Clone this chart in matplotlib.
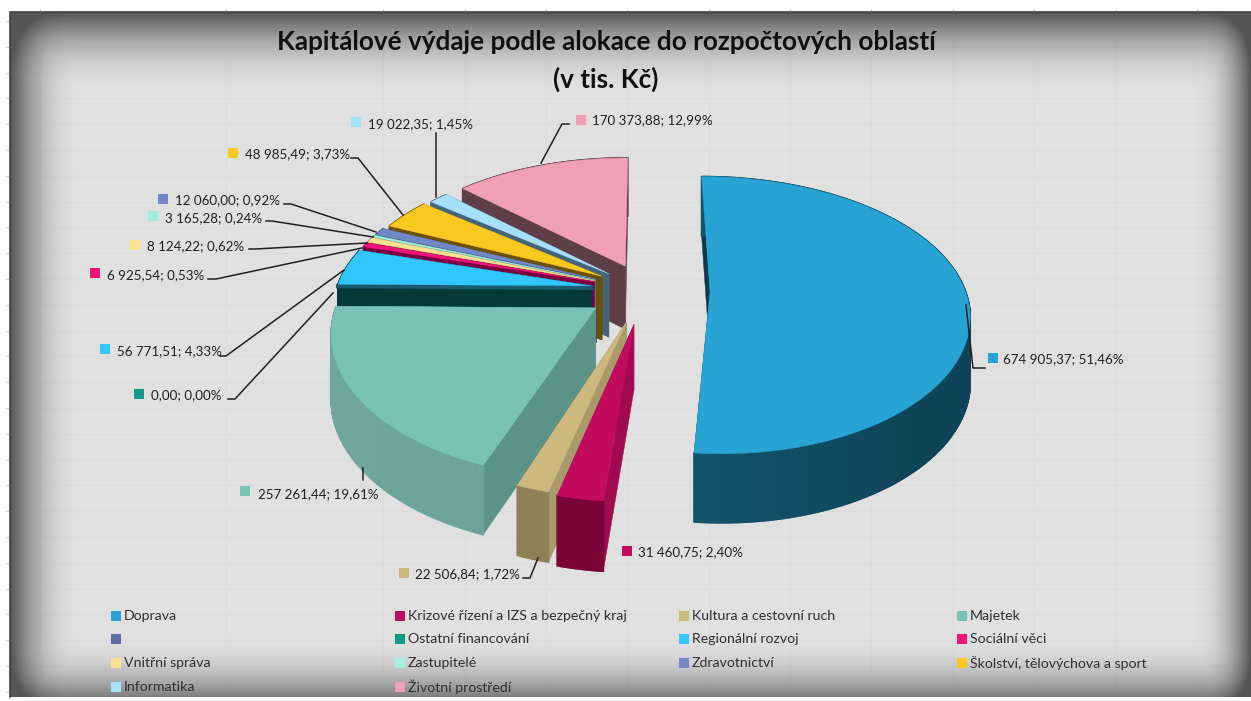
import numpy as np
import matplotlib
matplotlib.use("Agg")
import matplotlib.pyplot as plt

plt.rcParams['font.family'] = ['Lato', 'DejaVu Sans']

# data
categories = ['Doprava', 'Krizové řízení a IZS a bezpečný kraj', 'Kultura a cestovní ruch', 'Majetek',
              '', 'Ostatní financování', 'Regionální rozvoj', 'Sociální věci',
              'Vnitřní správa', 'Zastupitelé', 'Zdravotnictví', 'Školství, tělovýchova a sport',
              'Informatika', 'Životní prostředí']
values = [674905.37, 31460.75, 22506.84, 257261.44,
          0.0, 0.0, 56771.51, 6925.54,
          8124.22, 3165.28, 12060.00, 48985.49,
          19022.35, 170373.88]
top_colors = ['#27A4D3', '#C20A5F', '#CDB97D', '#78C2B6',
              '#5A6EAA', '#109888', '#31C6FF', '#EE1478',
              '#FFDF90', '#A0F0E0', '#7088C8', '#FBC820',
              '#A5E0FF', '#F09FB5']
cut_colors = ['#0B3A4C', '#A00A50', '#A99A6B', '#5C9389',
              '#333333', '#333333', '#053A36', '#7A0040',
              '#8A7A50', '#4A8A7A', '#3A4A70', '#6B5000',
              '#45667A', '#5E3F48']
rim_start = ['#0E4358', '#7A0338', '#8F8058', '#5F9A90',
             '#333333', '#333333', '#053A36', '#7A0040',
             '#8A7A50', '#4A8A7A', '#3A4A70', '#6B5000',
             '#45667A', '#5E3F48']
rim_end = ['#1A6A88', '#7A0338', '#8F8058', '#6FA69D',
           '#333333', '#333333', '#053A36', '#7A0040',
           '#8A7A50', '#4A8A7A', '#3A4A70', '#6B5000',
           '#45667A', '#5E3F48']
explode = [0.255, 0.25, 0.24, 0.23, 0, 0, 0.214, 0.21, 0.21, 0.21, 0.21, 0.20, 0.19, 0.20]
draw_order = [13, 12, 11, 10, 9, 8, 7, 6, 3, 2, 1, 0]

# data labels: marker x, marker y, text x, text y, leader path
label_pos = {
    0: (993, 358, 1003, 359, [(966, 305), (973, 368), (985, 368)]),
    1: (627, 551, 638, 552, None),
    2: (404, 573, 415, 574, [(538, 558), (530, 578), (523, 578)]),
    3: (245, 491, 258, 494, [(363, 468), (363, 480)]),
    5: (139, 394, 151, 395, [(333, 293), (235, 399), (228, 399)]),
    6: (105, 349, 117, 351, [(344, 270), (226, 356), (220, 356)]),
    7: (95, 273, 107, 275, [(362, 248), (216, 279), (208, 279)]),
    8: (135, 245, 147, 246, [(367, 243), (255, 249), (249, 249)]),
    9: (153, 216, 165, 218, [(373, 237), (272, 221), (266, 221)]),
    10: (163, 199, 175, 200, [(376, 232), (291, 204), (284, 204)]),
    11: (233, 153, 245, 154, [(403, 215), (358, 158), (351, 158)]),
    12: (356, 122, 368, 124, [(436, 197), (436, 133)]),
    13: (581, 120, 592, 120, [(541, 163), (562, 124), (569, 124)]),
}
legend_x = [112, 396, 680, 958]
legend_y = [616, 639, 663, 687]

# pie model
cx, cy, rx, ry = 645, 290, 255, 134
persp_x, persp_y = 0.15, 0.17
start_angle = 0.0


def project(u, v):
    return cx + rx * u / (1 - persp_x * v), cy + ry * v / (1 - persp_y * v)


def depth(v):
    return 64 + 5 * v


def mix(c1, c2, t):
    a = np.array(matplotlib.colors.to_rgb(c1))
    b = np.array(matplotlib.colors.to_rgb(c2))
    return a + (b - a) * t


fig = plt.figure(figsize=(12.51, 7.01), dpi=100, facecolor='white')
ax = fig.add_axes([0, 0, 1, 1])
ax.axis('off')

# grey panel with dark vignette
X, Y = np.meshgrid(np.arange(10, 1251), np.arange(12, 697))
dx = np.clip(1 - np.minimum((X - 10) / 68, (1251 - X) / 55), 0, 1)
dy_top = np.clip(1 - (Y - 12) / 80, 0, 1)
dy_bot = np.clip(1 - (697 - Y) / 60, 0, 1) * 0.85
dy = np.maximum(dy_top, dy_bot)
shade = (dx ** 3 + dy ** 3) ** (1 / 3)
ax.imshow(0.875 - 0.54 * np.clip(shade, 0, 1) ** 2, extent=(10, 1251, 697, 12), cmap='gray', vmin=0, vmax=1,
          aspect='auto', zorder=0)
ax.set_xlim(0, 1251)
ax.set_ylim(701, 0)
for gy in np.arange(21, 697, 25.8):
    ax.plot([10, 1251], [gy, gy], color='#808080', alpha=0.035, lw=1, zorder=1)
    ax.plot([6, 10], [gy, gy], color='#d8d8d8', lw=0.8, zorder=1)
for gx in [40, 226, 383, 465, 546, 627, 709, 790, 871, 953, 1034, 1116, 1197]:
    ax.plot([gx, gx], [12, 697], color='#808080', alpha=0.03, lw=1, zorder=1)
    ax.plot([gx, gx], [9, 12], color='#d8d8d8', lw=0.8, zorder=1)
ax.plot([10, 10, 1251], [697, 12, 12], color='#404040', lw=1.2, zorder=2)

# slices
total = sum(values)
ends = np.cumsum(values) / total * 2 * np.pi + start_angle
starts = ends - np.array(values) / total * 2 * np.pi
for i in draw_order:
    t0, t1 = starts[i], ends[i]
    mid = (t0 + t1) / 2
    ou = explode[i] * np.sin(mid)
    ov = -explode[i] * np.cos(mid)
    t = np.linspace(t0, t1, max(int((t1 - t0) * 120), 4))
    au = ou + np.sin(t)
    av = ov - np.cos(t)
    zo = 3 + draw_order.index(i) * 0.1

    # cut faces
    ax_, ay_ = project(ou, ov)
    for k in (0, -1):
        px, py = project(au[k], av[k])
        ax.fill([ax_, px, px, ax_], [ay_, py, py + depth(av[k]), ay_ + depth(ov)],
                color=cut_colors[i], lw=0.3, zorder=zo)
    # outer rim, shaded along the arc
    px, py = project(au, av)
    for k in range(len(t) - 1):
        col = mix(rim_start[i], rim_end[i], np.clip((-au[k] + 1) / 2, 0, 1))
        ax.fill([px[k], px[k + 1], px[k + 1], px[k]],
                [py[k], py[k + 1], py[k + 1] + depth(av[k + 1]), py[k] + depth(av[k])],
                color=col, lw=1.2, zorder=zo)
    # regional slice has a lighter band under its front edge
    if i == 6:
        ax.plot([ax_, px[0]], [ay_ + 2, py[0] + 2], color='#1B5B6E', lw=3, zorder=zo)
    # top face
    ax.fill(np.r_[ax_, px], np.r_[ay_, py], color=top_colors[i], lw=0.3, zorder=zo + 0.01)

# data labels
for i, (mx, my, tx, ty, path) in label_pos.items():
    ax.scatter([mx], [my], marker='s', s=42, color=top_colors[i], lw=0, zorder=6)
    txt = f"{values[i]:,.2f}".replace(',', ' ').replace('.', ',') + '; ' + f"{values[i] / total * 100:.2f}".replace('.', ',') + '%'
    ax.text(tx, ty, txt, fontsize=9.6, color='#202020', va='center', ha='left', zorder=7)
    if path:
        ax.plot([p[0] for p in path], [p[1] for p in path], color='#202020', lw=1.1, zorder=6)

# legend
for i, name in enumerate(categories):
    lx = legend_x[i % 4]
    ly = legend_y[i // 4]
    ax.scatter([lx + 4], [ly], marker='s', s=52, color=top_colors[i], lw=0, zorder=6)
    ax.text(lx + 12, ly, name, fontsize=10.2, color='#303030', va='center', ha='left', zorder=7)

ax.text(606, 42, 'Kapitálové výdaje podle alokace do rozpočtových oblastí', fontsize=18.8, fontweight='bold',
        color='#101010', ha='center', va='center', zorder=7)
ax.text(606, 79, '(v tis. Kč)', fontsize=18.8, fontweight='bold', color='#101010', ha='center', va='center', zorder=7)

fig.savefig('out.png', dpi=100)
